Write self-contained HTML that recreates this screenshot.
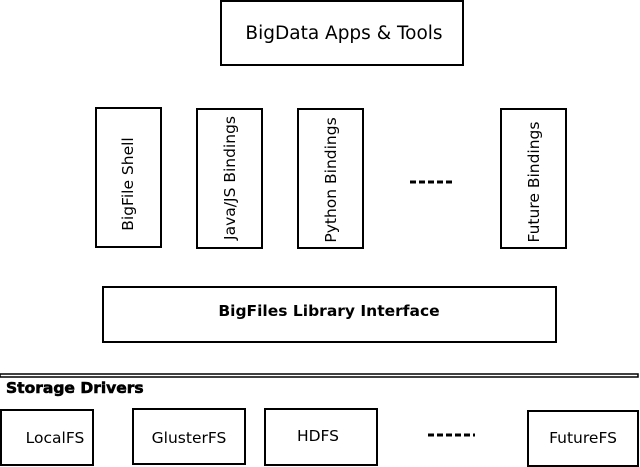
<!DOCTYPE html>
<html><head><style>body{margin:0;background:#fff}svg{display:block}</style></head><body>
<svg width="640" height="467" xmlns="http://www.w3.org/2000/svg" font-family="DejaVu Sans, sans-serif" fill="none" stroke="#000" stroke-width="2">
<rect x="221" y="1" width="242" height="64"/>
<text x="344" y="39" font-size="18.5" fill="#000" stroke="none" text-anchor="middle">BigData Apps &amp; Tools</text>
<rect x="96" y="108" width="65" height="139"/>
<rect x="197" y="109" width="65" height="139"/>
<rect x="298" y="109" width="65" height="139"/>
<rect x="501" y="109" width="65" height="139"/>
<g fill="#000" stroke="none" font-size="15.5" text-anchor="middle">
<text transform="translate(133,184) rotate(-90)">BigFile Shell</text>
<text transform="translate(235,178) rotate(-90)">Java/JS Bindings</text>
<text transform="translate(336,180) rotate(-90)">Python Bindings</text>
<text transform="translate(539,182) rotate(-90)">Future Bindings</text>
</g>
<line x1="410" y1="182" x2="455" y2="182" stroke-width="3" stroke-dasharray="6,3"/>
<rect x="103" y="287" width="453" height="55"/>
<text x="329" y="316" font-size="15.5" font-weight="bold" fill="#000" stroke="none" text-anchor="middle">BigFiles Library Interface</text>
<rect x="0" y="374" width="638" height="3" stroke-width="1.5"/>
<text x="6" y="393" font-size="15.5" font-weight="bold" fill="#000" stroke="#000" stroke-width="0.6">Storage Drivers</text>
<rect x="1" y="410" width="92" height="55"/>
<rect x="133" y="409" width="112" height="55"/>
<rect x="265" y="409" width="112" height="56"/>
<rect x="528" y="411" width="110" height="55"/>
<g fill="#000" stroke="none" font-size="15.5" text-anchor="middle">
<text x="55" y="443">LocalFS</text>
<text x="189" y="443">GlusterFS</text>
<text x="318" y="441">HDFS</text>
<text x="583" y="443">FutureFS</text>
</g>
<line x1="428" y1="435" x2="475" y2="435" stroke-width="3" stroke-dasharray="6,3"/>
</svg>
</body></html>
